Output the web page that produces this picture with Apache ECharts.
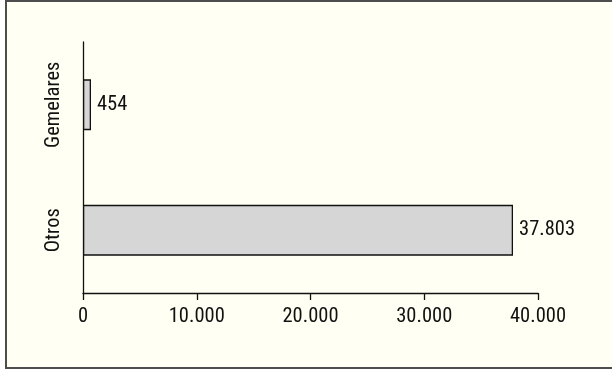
<!DOCTYPE html>
<html>
<head>
<meta charset="utf-8">
<script src="https://cdn.jsdelivr.net/npm/echarts@6/dist/echarts.min.js"></script>
<style>
  html, body { margin: 0; padding: 0; background: #ffffff; }
  #chart { width: 612px; height: 369px; }
</style>
</head>
<body>
<div id="chart"></div>
<script>
// datos
const categories = ['Otros', 'Gemelares']
const values = [37803, 454]
const axisMin = 0
const axisMax = 40000
const axisStep = 10000

const FONT = "'Roboto Condensed', 'Liberation Sans', sans-serif"

function fmt(n) {
  return String(n).replace(/\B(?=(\d{3})+(?!\d))/g, '.')
}

const chart = echarts.init(document.getElementById('chart'), null, { renderer: 'canvas' })

chart.setOption({
  animation: false,
  backgroundColor: '#ffffff',
  graphic: [{
    type: 'rect',
    z: -10,
    silent: true,
    shape: { x: 6, y: 1, width: 620, height: 367 },
    style: { fill: '#fffff3', stroke: '#4d4d4d', lineWidth: 2 }
  }],
  grid: {
    left: 83,
    right: 74,
    top: 42,
    bottom: 76,
    containLabel: false
  },
  xAxis: {
    type: 'value',
    min: axisMin,
    max: axisMax,
    interval: axisStep,
    splitLine: { show: false },
    axisLine: { show: true, lineStyle: { color: '#111', width: 1.3 } },
    axisTick: { show: true, length: 7, lineStyle: { color: '#111', width: 1.3 } },
    axisLabel: {
      margin: 13,
      fontFamily: FONT,
      fontSize: 20.5,
      color: '#111',
      formatter: v => fmt(v)
    }
  },
  yAxis: {
    type: 'category',
    data: categories,
    axisLine: { show: true, lineStyle: { color: '#111', width: 1.3 } },
    axisTick: { show: false },
    axisLabel: {
      rotate: 90,
      margin: 19,
      fontFamily: FONT,
      fontSize: 20.5,
      color: '#111'
    }
  },
  series: [{
    type: 'bar',
    data: values,
    barWidth: '40.5%',
    barMinHeight: 8,
    itemStyle: {
      color: '#d6d6d6',
      borderColor: '#111',
      borderWidth: 1.3
    },
    label: {
      show: true,
      position: 'right',
      distance: 6,
      fontFamily: FONT,
      fontSize: 20.5,
      color: '#111',
      formatter: p => fmt(p.value)
    }
  }]
})
</script>
</body>
</html>
